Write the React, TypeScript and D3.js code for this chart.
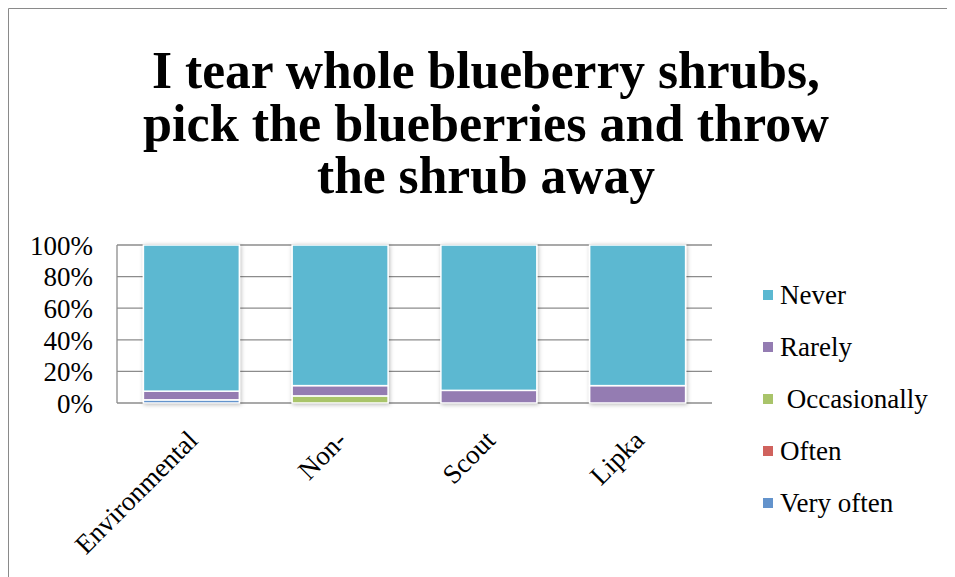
import React from "react";
import * as d3 from "d3";

// Survey groups along the x axis
const categories = ["Environmental", "Non-", "Scout", "Lipka"];

// Response shares (%) per group, stacked bottom to top
const veryOften = [2, 0, 0, 0];
const often = [0, 0, 0, 0];
const occasionally = [0, 4.5, 0, 0];
const rarely = [5.5, 6.5, 8, 11];
const never = [92.5, 89, 92, 89];

const yTicks = [0, 20, 40, 60, 80, 100];
const legendLabels = ["Never", "Rarely", " Occasionally", "Often", "Very often"];
const titleLines = [
  "I tear whole blueberry shrubs,",
  "pick the blueberries and throw",
  "the shrub away",
];

const seriesKeys = ["veryOften", "often", "occasionally", "rarely", "never"];
const seriesColors: Record<string, string> = {
  veryOften: "#6393CC",
  often: "#D0625D",
  occasionally: "#A9C46A",
  rarely: "#947CB2",
  never: "#5BB8D1",
};
const legendKeys = ["never", "rarely", "occasionally", "often", "veryOften"];

const W = 940;
const H = 569;
const plot = { left: 109, right: 704, top: 237, bottom: 395 };
const font = "'Liberation Serif', 'DejaVu Serif', serif";

export default function App() {
  const rows = categories.map((c, i) => ({
    cat: c,
    veryOften: veryOften[i],
    often: often[i],
    occasionally: occasionally[i],
    rarely: rarely[i],
    never: never[i],
  }));
  const stack = d3.stack<any>().keys(seriesKeys)(rows);

  const x = d3
    .scaleBand<string>()
    .domain(categories)
    .range([plot.left, plot.right])
    .paddingInner(0.355)
    .paddingOuter(0.1775);
  const y = d3.scaleLinear().domain([0, 100]).range([plot.bottom, plot.top]);

  const titleWidths = [668, 686, 338];

  return (
    <svg width={W} height={H} style={{ display: "block" }}>
      <defs>
        <filter id="barShadow" x="-20%" y="-20%" width="140%" height="140%">
          <feDropShadow dx="1" dy="1" stdDeviation="2" floodColor="#000" floodOpacity="0.28" />
        </filter>
      </defs>
      <rect x={0} y={0} width={W} height={H} fill="#fff" />
      {/* chart frame */}
      <path d={`M0.5,${H} V0.5 H${W - 0.5} V${H}`} fill="none" stroke="#8a8a8a" strokeWidth={1} />

      {/* title */}
      {titleLines.map((t, i) => (
        <text
          key={i}
          x={478}
          y={80 + i * 52.5}
          textAnchor="middle"
          fontFamily={font}
          fontWeight="bold"
          fontSize={52}
          textLength={titleWidths[i]}
          lengthAdjust="spacingAndGlyphs"
          fill="#000"
        >
          {t}
        </text>
      ))}

      {/* gridlines */}
      {yTicks.map((t) => (
        <line
          key={t}
          x1={plot.left}
          x2={plot.right}
          y1={y(t)}
          y2={y(t)}
          stroke="#8c8c8c"
          strokeWidth={1.3}
        />
      ))}
      <line x1={plot.left} x2={plot.left} y1={plot.top} y2={plot.bottom} stroke="#8c8c8c" strokeWidth={1.3} />

      {/* y tick labels */}
      {yTicks.map((t) => (
        <text
          key={t}
          x={plot.left - 24}
          y={y(t)}
          dy="0.36em"
          textAnchor="end"
          fontFamily={font}
          fontSize={27}
          fill="#000"
        >
          {t}%
        </text>
      ))}

      {/* stacked bars */}
      <g filter="url(#barShadow)">
        {stack.map((s) =>
          s.map((d, i) => {
            const h = y(d[0]) - y(d[1]);
            if (h <= 0) return null;
            return (
              <rect
                key={s.key + i}
                x={x(categories[i])}
                y={y(d[1])}
                width={x.bandwidth()}
                height={h}
                fill={seriesColors[s.key]}
                stroke="#fff"
                strokeWidth={1.5}
              />
            );
          })
        )}
      </g>

      {/* x labels */}
      {categories.map((c) => {
        const cx = (x(c) as number) + x.bandwidth() / 2 + 8;
        const cy = plot.bottom + 39;
        return (
          <text
            key={c}
            transform={`translate(${cx},${cy}) rotate(-45)`}
            textAnchor="end"
            fontFamily={font}
            fontSize={27}
            fill="#000"
          >
            {c}
          </text>
        );
      })}

      {/* legend */}
      {legendKeys.map((k, i) => (
        <g key={k} transform={`translate(755,${287 + i * 52})`}>
          <rect x={0} y={-5} width={10} height={10} fill={seriesColors[k]} />
          <text x={17} y={0} dy="0.35em" fontFamily={font} fontSize={27} fill="#000" style={{ whiteSpace: "pre" }}>
            {legendLabels[i]}
          </text>
        </g>
      ))}
    </svg>
  );
}
